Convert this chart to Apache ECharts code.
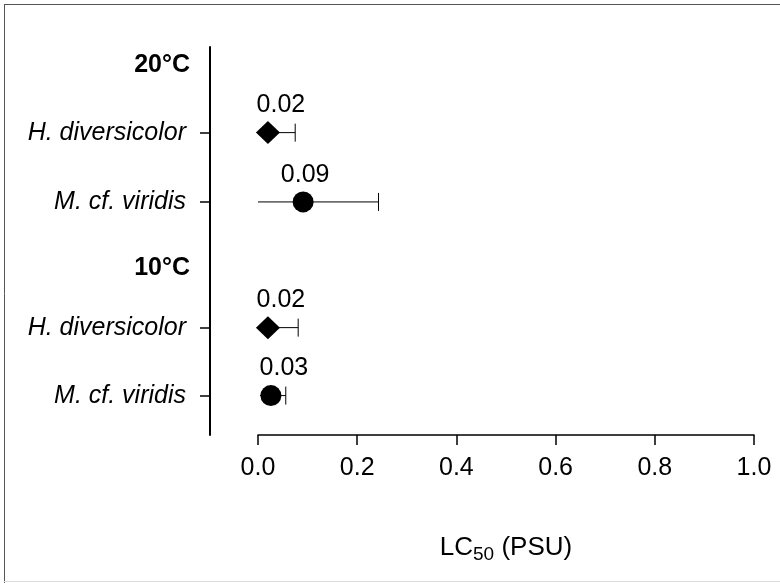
<!DOCTYPE html>
<html>
<head>
<meta charset="utf-8">
<script src="https://cdn.jsdelivr.net/npm/echarts@6/dist/echarts.min.js"></script>
<style>
  html, body { margin: 0; padding: 0; background: #fff; }
  #chart { width: 780px; height: 583px; }
</style>
</head>
<body>
<div id="chart"></div>
<script>
// rows on the y axis, top to bottom
const rowLabels = ["20°C", "H. diversicolor", "M. cf. viridis", "10°C", "H. diversicolor", "M. cf. viridis"]
const rowPos = [0, 1, 2.02, 3, 3.87, 4.87]

// one point per species row
const pointRow = [1, 2, 4, 5]
const lc50 = [0.020, 0.091, 0.020, 0.026]
const lower = [0.008, 0.0, 0.008, 0.004]
const upper = [0.075, 0.243, 0.081, 0.056]
const pointSymbol = ["diamond", "circle", "diamond", "circle"]

const FONT = '"Liberation Sans", Arial, sans-serif'
const BLACK = "#000"

const chart = echarts.init(document.getElementById("chart"))

const speciesPos = pointRow.map(r => rowPos[r])

const points = lc50.map((v, i) => ({
    value: [v, rowPos[pointRow[i]]],
    symbol: pointSymbol[i],
    symbolSize: pointSymbol[i] === "diamond" ? [24, 23] : 21,
    label: { offset: [v < 0.05 ? 13 : 2, 0] }
}))

const bars = lc50.map((v, i) => [lower[i], upper[i], rowPos[pointRow[i]]])

const option = {
    animation: false,
    backgroundColor: "#fff",
    grid: { left: 258, right: 26, top: 47, bottom: 148 },
    xAxis: {
        type: "value",
        min: 0,
        max: 1,
        interval: 0.2,
        position: "bottom",
        splitLine: { show: false },
        axisLine: { onZero: false, lineStyle: { color: BLACK, width: 1.5 } },
        axisTick: { length: 10, lineStyle: { color: BLACK, width: 1.5 } },
        axisLabel: {
            color: BLACK,
            fontSize: 25,
            fontFamily: FONT,
            margin: 21,
            formatter: v => v.toFixed(1)
        },
        name: "LC{sub|50} (PSU)",
        nameLocation: "middle",
        nameGap: 96,
        nameTextStyle: {
            color: BLACK,
            fontSize: 26,
            fontFamily: FONT,
            rich: {
                sub: { fontSize: 19, fontFamily: FONT, color: BLACK, padding: [14, 0, 0, 0] }
            }
        }
    },
    yAxis: {
        type: "value",
        inverse: true,
        min: -0.26,
        max: 5.45,
        position: "left",
        offset: 48,
        splitLine: { show: false },
        axisLine: { show: true, onZero: false, lineStyle: { color: BLACK, width: 2 } },
        axisTick: {
            show: true,
            customValues: speciesPos,
            length: 10,
            lineStyle: { color: BLACK, width: 1.5 }
        },
        axisLabel: {
            customValues: rowPos,
            margin: 20,
            formatter: v => {
                const i = rowPos.indexOf(v)
                if (i < 0) return ""
                const t = rowLabels[i]
                return t.indexOf("°C") >= 0 ? `{head|${t}}` : `{sp|${t}}`
            },
            rich: {
                head: { fontSize: 25, fontWeight: "bold", fontFamily: FONT, color: BLACK },
                sp: { fontSize: 25, fontStyle: "italic", fontFamily: FONT, color: BLACK, padding: [0, 4, 0, 0] }
            }
        }
    },
    series: [
        {
            type: "custom",
            data: bars,
            encode: { x: [0, 1], y: 2 },
            z: 1,
            renderItem(params, api) {
                const a = api.coord([api.value(0), api.value(2)])
                const b = api.coord([api.value(1), api.value(2)])
                const style = { stroke: BLACK, lineWidth: 1 }
                return {
                    type: "group",
                    children: [
                        { type: "line", shape: { x1: a[0], y1: a[1], x2: b[0], y2: b[1] }, style },
                        { type: "line", shape: { x1: b[0], y1: b[1] - 9, x2: b[0], y2: b[1] + 9 }, style }
                    ]
                }
            }
        },
        {
            type: "scatter",
            data: points,
            z: 2,
            itemStyle: { color: BLACK, opacity: 1 },
            label: {
                show: true,
                position: "top",
                distance: 4,
                color: BLACK,
                fontSize: 25,
                fontFamily: FONT,
                formatter: p => p.value[0].toFixed(2)
            }
        }
    ],
    graphic: [
        { type: "line", shape: { x1: 4, y1: 4.5, x2: 780, y2: 4.5 }, style: { stroke: "#555", lineWidth: 1 } },
        { type: "line", shape: { x1: 4.5, y1: 4, x2: 4.5, y2: 583 }, style: { stroke: "#555", lineWidth: 1 } },
        { type: "line", shape: { x1: 4, y1: 581.5, x2: 780, y2: 581.5 }, style: { stroke: "#ddd", lineWidth: 1 } }
    ]
}

chart.setOption(option)
</script>
</body>
</html>
